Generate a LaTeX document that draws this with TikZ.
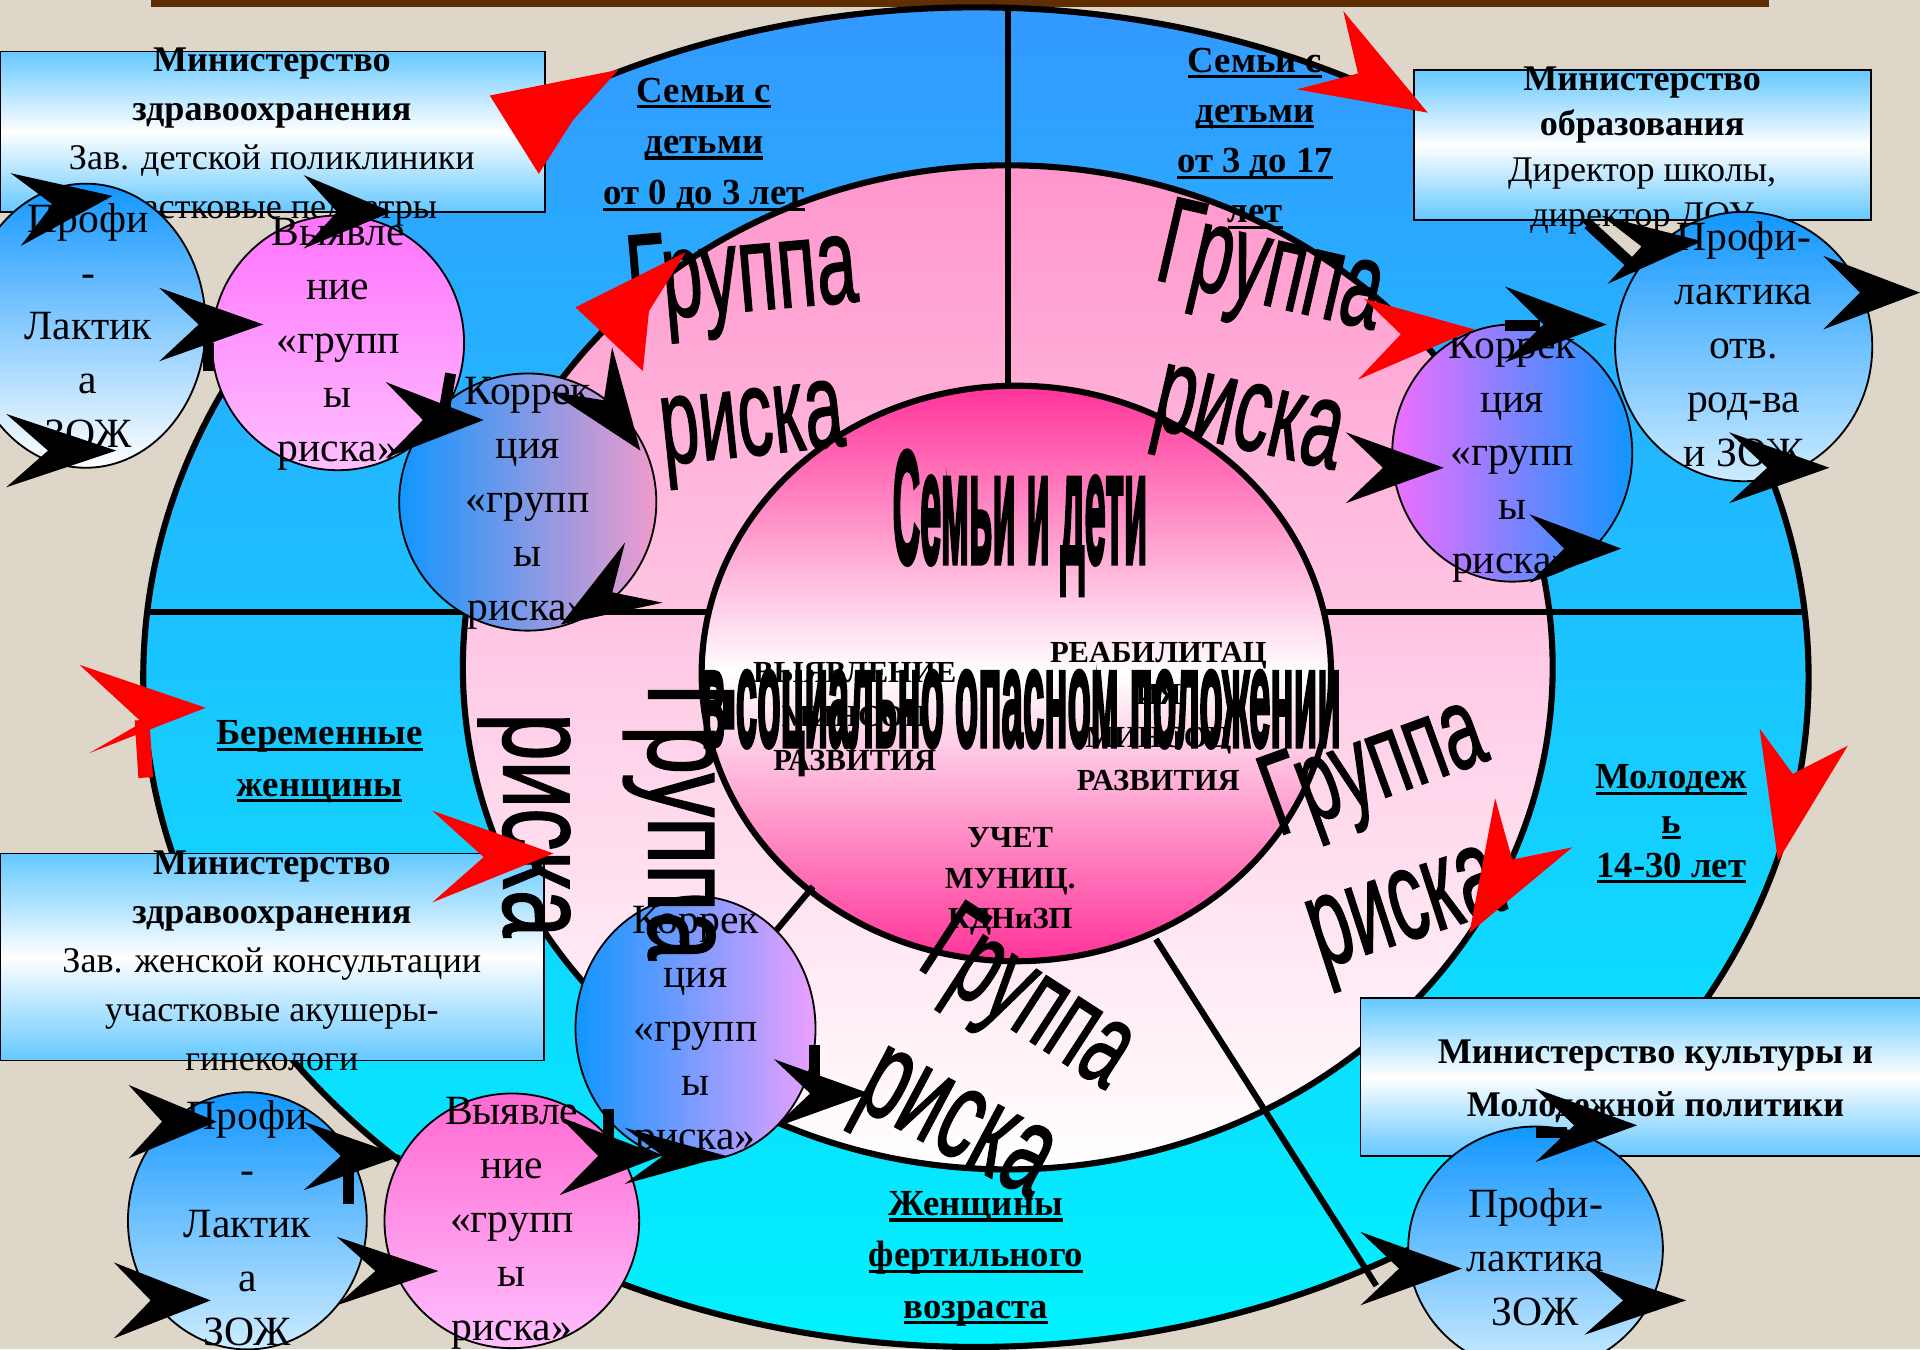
\documentclass[tikz,border=0pt]{standalone}
\usepackage{fontspec}
\setmainfont{Liberation Serif}
\setsansfont{Liberation Sans}
\newfontfamily\heavysans[BoldFeatures={FakeBold=3.5}]{Liberation Sans}
\newfontfamily\wartfont[FakeBold=1.5]{Liberation Sans}
\usetikzlibrary{shapes.geometric}

\definecolor{bg}{RGB}{222,214,200}
\definecolor{brownbar}{RGB}{96,46,0}
\definecolor{outtop}{RGB}{51,153,255}
\definecolor{outbot}{RGB}{0,242,255}
\definecolor{ringtop}{RGB}{255,150,204}
\definecolor{hotpink}{RGB}{255,51,153}
\definecolor{boxblue}{RGB}{100,200,255}
\definecolor{cblue}{RGB}{17,150,255}
\definecolor{cpale}{RGB}{205,236,255}
\definecolor{cmag}{RGB}{255,115,255}
\definecolor{cmagpale}{RGB}{255,190,255}
\definecolor{cpinkmag}{RGB}{255,105,208}
\definecolor{cpink}{RGB}{240,155,205}
\definecolor{cviolet}{RGB}{240,110,255}
\definecolor{clilac}{RGB}{235,160,255}
\definecolor{arrred}{RGB}{255,0,0}

\newcommand\wordart[3]{\resizebox*{#1pt}{#2pt}{\wartfont #3}}
\newcommand\blkhead[5]{\fill[black, shift={(#1,#2)}, rotate=#3] (0,0) -- (-#4,#5) -- ({-0.62*#4},0) -- (-#4,-#5) -- cycle;}
\newcommand\thickul[1]{\setbox0\hbox{#1}\rlap{\rule[-5pt]{\wd0}{2.6pt}}\box0}

\tikzset{
  every node/.style={inner sep=0pt, outer sep=0pt},
  ringline/.style={line width=5pt},
  divider/.style={line width=5pt},
  minbox/.style={draw=black, line width=1.5pt, rectangle, top color=boxblue, bottom color=boxblue, middle color=white, anchor=north west},
  bubble/.style={draw=black, line width=1.5pt, ellipse},
  bubtext/.style={align=center, font=\fontsize{34}{44}\selectfont},
  boxtext/.style={align=center, font=\fontsize{29.5}{40}\selectfont},
  sectlabel/.style={align=center, font=\fontsize{30}{42}\selectfont\bfseries},
  innertext/.style={align=center, font=\fontsize{25}{36}\selectfont\bfseries},
  stub/.style={line width=9pt},
}

\begin{document}
\begin{tikzpicture}[x=1pt,y=-1pt]
\useasboundingbox (0,0) rectangle (1568,1102);
\clip (0,0) rectangle (1568,1102);
\fill[bg] (0,0) rectangle (1568,1102);
\fill[brownbar] (123,-2) rectangle (1445,6);

% rings
\draw[ringline, top color=outtop, bottom color=outbot] (797,553) ellipse [x radius=680, y radius=547];
\draw[ringline, top color=ringtop, bottom color=white] (823,545) ellipse [x radius=445, y radius=410];
\draw[ringline, top color=hotpink, bottom color=hotpink, middle color=white] (830,550) ellipse [x radius=257, y radius=235];

% dividers
\draw[divider] (823,6) -- (823,316);
\draw[divider] (120,500) -- (579,500);
\draw[divider] (1081,500) -- (1475,500);
\draw[divider] (664,724) -- (545,866);
\draw[divider] (944,767) -- (1124,1050);

% sector labels
\node[sectlabel] (lab03) at (575,118) {\thickul{Семьи с}\\\thickul{детьми}\\\thickul{от 0 до 3 лет}};
\node[sectlabel, font=\fontsize{30}{41}\selectfont\bfseries] (lab317) at (1025,113) {\thickul{Семьи с}\\\thickul{детьми}\\\thickul{от 3 до 17}\\\thickul{лет}};
\node[sectlabel] (labpreg) at (261,622) {\thickul{Беременные}\\\thickul{женщины}};
\node[sectlabel, font=\fontsize{30}{36}\selectfont\bfseries] (labyouth) at (1365,673) {\thickul{Молодеж}\\\thickul{ь}\\\thickul{14-30 лет}};
\node[sectlabel] (labfert) at (797,1028) {\thickul{Женщины}\\\thickul{фертильного}\\\thickul{возраста}};

% inner small texts
\node[innertext] (detect) at (698,585) {ВЫЯВЛЕНИЕ\\МИНСОЦ\\РАЗВИТИЯ};
\node[innertext, font=\fontsize{25}{35}\selectfont\bfseries] (rehab) at (946,585) {РЕАБИЛИТАЦ\\ИЯ\\МИНСОЦ\\РАЗВИТИЯ};
\node[innertext, font=\fontsize{25}{33}\selectfont\bfseries] (record) at (825,720) {УЧЕТ\\МУНИЦ.\\КДНиЗП};

% ministry boxes
\node[minbox, minimum width=445, minimum height=131] (mz1) at (0,42) {};
\node[minbox, minimum width=373, minimum height=123] (mo) at (1155,57) {};
\node[minbox, minimum width=444, minimum height=169] (mz2) at (0,697) {};
\node[minbox, minimum width=464, minimum height=129] (mk) at (1111,815) {};

\node[boxtext] (mz1t) at (222,112) {\textbf{Министерство}\\\textbf{здравоохранения}\\Зав. детской поликлиники\\участковые педиатры};
\node[boxtext, font=\fontsize{29.5}{37}\selectfont] (mot) at (1341,123) {\textbf{Министерство}\\\textbf{образования}\\Директор школы,\\директор ДОУ};
\node[boxtext] (mz2t) at (222,785) {\textbf{Министерство}\\\textbf{здравоохранения}\\Зав. женской консультации\\участковые акушеры-\\гинекологи};
\node[boxtext, font=\fontsize{29.5}{43}\selectfont] (mkt) at (1352,883) {\textbf{Министерство культуры и}\\\textbf{Молодежной политики}};

% bubbles
\node[bubble, minimum width=196, minimum height=232, top color=cblue, bottom color=white] (c1) at (70,266) {};
\node[bubble, minimum width=206, minimum height=208, top color=cmag, bottom color=cmagpale] (c2) at (276,280) {};
\node[bubble, minimum width=210, minimum height=210, left color=cblue, right color=cpink] (c3) at (431,410) {};
\node[bubble, minimum width=196, minimum height=210, left color=cviolet, right color=cblue] (c4) at (1235,370) {};
\node[bubble, minimum width=210, minimum height=220, top color=cblue, bottom color=cpale] (c5) at (1424,283) {};
\node[bubble, minimum width=196, minimum height=216, left color=cblue, right color=clilac] (c6) at (568,840) {};
\node[bubble, minimum width=195, minimum height=210, top color=cblue, bottom color=cpale] (c7) at (202,997) {};
\node[bubble, minimum width=208, minimum height=208, top color=cpinkmag, bottom color=cmagpale] (c8) at (418,997) {};
\node[bubble, minimum width=208, minimum height=200, top color=cblue, bottom color=cpale] (c9) at (1254,1020) {};

\node[bubtext] (c1t) at (72,266) {Профи\\-\\Лактик\\а\\ЗОЖ};
\node[bubtext] (c2t) at (276,281) {Выявле\\ние\\«групп\\ы\\риска»};
\node[bubtext] (c3t) at (431,411) {Коррек\\ция\\«групп\\ы\\риска»};
\node[bubtext] (c4t) at (1235,373) {Коррек\\ция\\«групп\\ы\\риска»};
\node[bubtext] (c5t) at (1424,281) {Профи-\\лактика\\отв.\\род-ва\\и ЗОЖ};
\node[bubtext] (c6t) at (568,843) {Коррек\\ция\\«групп\\ы\\риска»};
\node[bubtext] (c7t) at (202,999) {Профи\\-\\Лактик\\а\\ЗОЖ};
\node[bubtext] (c8t) at (418,999) {Выявле\\ние\\«групп\\ы\\риска»};
\node[bubtext] (c9t) at (1254,1027) {Профи-\\лактика\\ЗОЖ};

% "Группа риска" word art
\node[rotate=5] (g1a) at (606,230) {\wordart{188}{90}{Группа}};
\node[rotate=6] (g1b) at (615,355) {\wordart{150}{75}{риска}};
\node[rotate=-13] (g2a) at (1037,225) {\wordart{185}{90}{Группа}};
\node[rotate=-13] (g2b) at (1018,350) {\wordart{155}{75}{риска}};
\node[rotate=-90] (g3a) at (554,671) {\wordart{226}{90}{Группа}};
\node[rotate=-90] (g3b) at (428,674) {\wordart{183}{75}{риска}};
\node[rotate=20] (g4a) at (1123,630) {\wordart{185}{85}{Группа}};
\node[rotate=18] (g4b) at (1150,750) {\wordart{160}{78}{риска}};
\node[rotate=-33] (g5a) at (838,820) {\wordart{185}{88}{Группа}};
\node[rotate=-28] (g5b) at (777,925) {\wordart{165}{78}{риска}};

% centre
\node (famkids) at (833,427) {\resizebox*{208pt}{117pt}{\heavysans\bfseries Семьи и дети}};
\node (danger) at (834,590) {\resizebox*{522pt}{84pt}{\heavysans\bfseries в социально опасном положении}};

% black arrowheads
\blkhead{92}{160}{8}{80}{30}
\blkhead{320}{173}{0}{72}{30}
\blkhead{215}{265}{0}{85}{30}
\draw[stub] (170,280) -- (170,303);
\blkhead{95}{368}{0}{90}{30}
\blkhead{395}{343}{0}{80}{31}
\draw[stub] (368,305) -- (362,340);
\blkhead{523}{368}{-54}{82}{31}
\blkhead{458}{510}{212}{80}{29}
\draw[stub] (1297,183) -- (1335,218);
\blkhead{1390}{197}{5}{80}{28}
\blkhead{1568}{239}{0}{79}{30}
\blkhead{1494}{382}{0}{82}{29}
\blkhead{1312}{265}{0}{83}{31}
\draw[stub] (1229,266) -- (1258,266);
\blkhead{1179}{382}{0}{80}{29}
\blkhead{1324}{448}{0}{75}{28}
\blkhead{177}{916}{0}{72}{30}
\blkhead{328}{944}{0}{80}{28}
\draw[stub] (285,955) -- (285,983);
\blkhead{172}{1062}{0}{79}{31}
\blkhead{358}{1038}{0}{83}{28}
\blkhead{540}{944}{0}{83}{32}
\draw[stub] (497,906) -- (497,940);
\blkhead{593}{944}{0}{83}{23}
\blkhead{710}{893}{0}{78}{28}
\draw[stub] (665,853) -- (665,882);
\blkhead{1194}{1036}{0}{83}{30}
\blkhead{1377}{1062}{0}{83}{28}
\blkhead{1337}{919}{0}{83}{30}
\draw[stub] (1254,925) -- (1280,925);

% red arrowheads
\fill[arrred] (400,78) -- (505,57) -- (468,98) -- (440,142) -- cycle;
\fill[arrred] (470,251) -- (560,206) -- (530,254) -- (525,303) -- cycle;
\fill[arrred] (1166,92) -- (1097,9) -- (1109,60) -- (1059,73) -- cycle;
\fill[arrred] (1204,269) -- (1114,244) -- (1144,273) -- (1109,310) -- cycle;
\fill[arrred] (168,578) -- (65,543) -- (116,590) -- (73,615) -- cycle;
\draw[arrred, line width=12pt] (116,588) -- (119,635);
\fill[arrred] (452,697) -- (353,662) -- (395,700) -- (353,737) -- cycle;
\fill[arrred] (1200,762) -- (1221,652) -- (1235,702) -- (1284,692) -- cycle;
\fill[arrred] (1452,703) -- (1437,595) -- (1464,632) -- (1509,609) -- cycle;
\end{tikzpicture}
\end{document}
